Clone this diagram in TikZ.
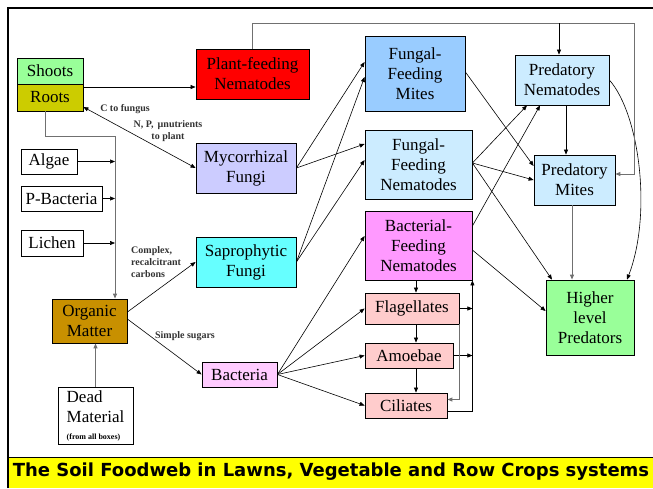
\documentclass[tikz,border=0pt]{standalone}
\usepackage{fontspec}
\setmainfont{LiberationSerif}[Extension=.ttf, UprightFont=*-Regular, BoldFont=*-Bold,
  ItalicFont=*-Italic, BoldItalicFont=*-BoldItalic]
\newfontfamily\bannerfont{DejaVu Sans}
\usetikzlibrary{arrows.meta}

\definecolor{sfGreen}{HTML}{99FF99}
\definecolor{sfRoot}{HTML}{CCCC00}
\definecolor{sfRed}{HTML}{FF0000}
\definecolor{sfMyco}{HTML}{CCCCFF}
\definecolor{sfOrganic}{HTML}{C89000}
\definecolor{sfSapro}{HTML}{66FFFF}
\definecolor{sfBact}{HTML}{FFCCFF}
\definecolor{sfMites}{HTML}{99CCFF}
\definecolor{sfPale}{HTML}{CCECFF}
\definecolor{sfBfn}{HTML}{FF99FF}
\definecolor{sfProto}{HTML}{FFCCCC}
\definecolor{sfBanner}{HTML}{FFFF00}
\definecolor{sfLine}{HTML}{707070}

\tikzset{
  box/.style={draw=black, line width=0.8pt, inner sep=1pt, align=center,
    font=\fontsize{17}{20}\selectfont},
  lbl/.style={font=\fontsize{10}{12}\selectfont\bfseries, text=black!80, inner sep=0pt},
  arr/.style={-{Triangle[length=5pt,width=4pt]}, line width=0.6pt},
  dblarr/.style={{Triangle[length=5pt,width=4pt]}-{Triangle[length=5pt,width=4pt]}, line width=0.6pt},
  grey/.style={draw=sfLine, line width=1pt}
}

\begin{document}
\begin{tikzpicture}[x=1pt, y=1pt]
  \useasboundingbox (0,0) rectangle (653,-488);

  % frame and title banner
  \fill[sfBanner] (8,-457) rectangle (653,-488);
  \draw[line width=1pt] (8,-457) -- (653,-457);
  \draw[line width=2pt] (8,-488) -- (8,-8) -- (653,-8);
  \node[font=\bannerfont\bfseries\fontsize{18}{20}\selectfont] (title) at (331,-472)
    {The Soil Foodweb in Lawns, Vegetable and Row Crops systems};

  % plants and inputs
  \node[box, fill=sfGreen, minimum width=66, minimum height=26] (shoots) at (50,-71) {Shoots};
  \node[box, fill=sfRoot, minimum width=66, minimum height=27] (roots) at (50,-97.5) {Roots};
  \node[box, fill=white, minimum width=56, minimum height=25] (algae) at (49,-161.5) {Algae};
  \node[box, fill=white, minimum width=81, minimum height=25] (pbac) at (61.5,-198.5) {P-Bacteria};
  \node[box, fill=white, minimum width=62, minimum height=26] (lichen) at (52,-243) {Lichen};
  \node[box, fill=sfOrganic, minimum width=75, minimum height=44] (om) at (89.5,-321) {Organic\\Matter};
  \node[box, fill=white, minimum width=75, minimum height=57, align=left] (dead) at (95.5,-415.5)
    {Dead\\Material\\[-3pt]{\fontsize{8}{9}\selectfont\bfseries (from all boxes)}};

  % first consumers
  \node[box, fill=sfRed, minimum width=113, minimum height=50] (pfn) at (252.5,-74) {Plant-feeding\\Nematodes};
  \node[box, fill=sfMyco, minimum width=100, minimum height=50] (myco) at (246,-168) {Mycorrhizal\\Fungi};
  \node[box, fill=sfSapro, minimum width=100, minimum height=50] (sapro) at (246,-262) {Saprophytic\\Fungi};
  \node[box, fill=sfBact, minimum width=75, minimum height=25] (bac) at (239.5,-374.5) {Bacteria};

  % grazers
  \node[box, fill=sfMites, minimum width=100, minimum height=75] (ffm) at (415,-73.5) {Fungal-\\Feeding\\Mites};
  \node[box, fill=sfPale, minimum width=107, minimum height=69] (ffn) at (418.5,-164.5) {Fungal-\\Feeding\\Nematodes};
  \node[box, fill=sfBfn, minimum width=107, minimum height=69] (bfn) at (418.5,-245.5) {Bacterial-\\Feeding\\Nematodes};
  \node[box, fill=sfProto, minimum width=94, minimum height=31] (flag) at (412,-308.5) {Flagellates};
  \node[box, fill=sfProto, minimum width=88, minimum height=25] (amoe) at (409,-355.5) {Amoebae};
  \node[box, fill=sfProto, minimum width=82, minimum height=25] (cil) at (406,-405.5) {Ciliates};

  % predators
  \node[box, fill=sfPale, minimum width=94, minimum height=50] (pn) at (562,-80) {Predatory\\Nematodes};
  \node[box, fill=sfPale, minimum width=81, minimum height=50] (pm) at (574.5,-180) {Predatory\\Mites};
  \node[box, fill=sfGreen, minimum width=88, minimum height=75] (hlp) at (590,-317.5) {Higher\\level\\Predators};

  % flow labels
  \node[lbl] (lblC) at (125,-109) {C to fungus};
  \node[lbl, align=center] (lblN) at (168,-131) {N, P,\, µnutrients\\to plant};
  \node[lbl, align=left, anchor=west] (lblCx) at (131,-262) {Complex,\\recalcitrant\\carbons};
  \node[lbl] (lblS) at (185,-336) {Simple sugars};

  % left side
  \coordinate (join) at (115,-136);
  \draw[arr, grey] ([xshift=-5pt]roots.south) |- (join) -- (join |- om.north);
  \draw[arr] (algae.east) -- (join |- algae.east);
  \draw[arr] (pbac.east) -- (join |- pbac.east);
  \draw[arr] (lichen.east) -- (join |- lichen.east);
  \draw[arr, grey] (dead.north) -- (dead.north |- om.south);
  \draw[arr] ([yshift=10.5pt]roots.east) -- ([yshift=-13pt]pfn.west);
  \draw[dblarr] ([yshift=-9.5pt]roots.east) -- (myco.west);
  \draw[arr] ([yshift=9pt]om.east) -- (sapro.west);
  \draw[arr] ([yshift=2pt]om.east) -- (bac.west);

  % fungi and bacteria to grazers
  \draw[arr] (myco.east) -- ([yshift=11.5pt]ffm.west);
  \draw[arr] (myco.east) -- ([yshift=20.5pt]ffn.west);
  \draw[arr] (sapro.east) -- ([yshift=-3.5pt]ffm.west);
  \draw[arr] (sapro.east) -- ([yshift=4.5pt]ffn.west);
  \draw[arr] (bac.east) -- ([yshift=9.5pt]bfn.west);
  \draw[arr] (bac.east) -- (flag.west);
  \draw[arr] (bac.east) -- (amoe.west);
  \draw[arr] (bac.east) -- (cil.west);

  % protozoa
  \draw[arr] ([xshift=-2.5pt]bfn.south) -- ([xshift=4pt]flag.north);
  \draw[arr] ([xshift=4pt]flag.south) -- ([xshift=7pt]amoe.north);
  \draw[arr] ([xshift=7pt]amoe.south) -- ([xshift=10pt]cil.north);
  \draw[arr] (flag.east) -- (flag.east -| bfn.east);
  \draw[arr] (amoe.east) -- (amoe.east -| bfn.east);
  \draw[arr, grey] (flag.south east) |- ([yshift=6pt]cil.east);
  \draw[arr] ([yshift=-6pt]cil.east) -| (bfn.south east);

  % grazers to predators
  \draw[arr] ([yshift=1.5pt]ffm.east) -- ([yshift=14pt]pm.west);
  \draw[arr] ([yshift=1.5pt]ffn.east) -- ([xshift=-35pt]pn.south);
  \draw[arr] ([yshift=1.5pt]ffn.east) -- (pm.west);
  \draw[arr] ([yshift=1.5pt]ffn.east) -- ([xshift=-38pt]hlp.north);
  \draw[arr] ([yshift=19.5pt]bfn.east) -- ([xshift=-22pt]pn.south);
  \draw[arr] ([yshift=-4.5pt]bfn.east) -- ([yshift=6.5pt]hlp.west);
  \draw[arr] ([xshift=4pt]pn.south) -- ([xshift=-8.5pt]pm.north);
  \draw[arr, grey] ([xshift=-2.5pt]pm.south) -- ([xshift=-18pt]hlp.north);
  \draw[arr] (pn.east) .. controls (640,-115) and (652,-215) .. ([xshift=37pt]hlp.north);

  % plant feeders route
  \coordinate (topright) at (634,-23);
  \draw[arr, grey] (pfn.north) |- (topright) |- ([yshift=6pt]pm.east);
  \draw[arr] ([xshift=-3pt]pn.north |- topright) -- ([xshift=-3pt]pn.north);
\end{tikzpicture}
\end{document}
